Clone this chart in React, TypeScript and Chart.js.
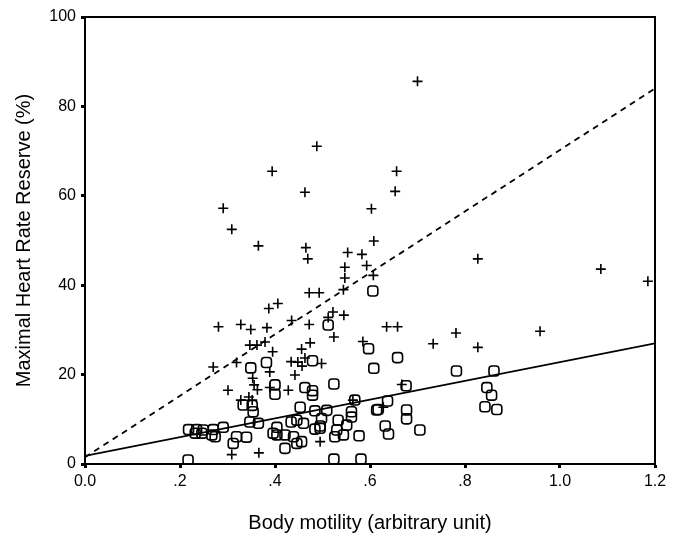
import React, { useEffect, useRef } from 'react';
import { Chart, registerables } from 'chart.js';

Chart.register(...registerables);

// "+" group
const crossX = [
  0.70, 0.488, 0.394, 0.656, 0.463, 0.653, 0.603, 0.291, 0.309, 0.365,
  0.608, 0.465, 0.469, 0.827, 0.553, 0.583, 0.547, 0.593, 0.547, 0.607,
  0.544, 0.472, 0.493, 0.387, 0.406, 0.435, 0.472, 0.522, 0.545, 0.512,
  0.635, 0.658, 0.781, 0.827, 0.733, 0.281, 0.328, 0.349, 0.383, 0.347,
  0.362, 0.379, 0.474, 0.524, 0.585, 0.456, 0.395, 0.270, 0.319, 0.389,
  0.434, 0.448, 0.457, 0.463, 0.498, 0.442, 0.353, 0.356, 0.363, 0.301,
  0.389, 0.428, 0.328, 0.345, 0.352, 0.564, 0.628, 0.495, 0.309, 0.366,
  0.667, 0.958, 1.086, 1.185,
];
const crossY = [
  85.6, 71.1, 65.5, 65.5, 60.8, 61.0, 57.1, 57.2, 52.5, 48.8,
  49.9, 48.4, 45.9, 45.9, 47.3, 46.9, 44.0, 44.4, 41.6, 42.2,
  39.0, 38.3, 38.3, 34.8, 35.9, 32.1, 31.2, 34.0, 33.3, 32.8,
  30.7, 30.7, 29.3, 26.1, 26.9, 30.7, 31.2, 30.1, 30.5, 26.6,
  26.6, 27.3, 27.1, 28.4, 27.4, 25.7, 25.1, 21.7, 22.7, 20.6,
  22.9, 22.8, 21.9, 23.7, 22.5, 19.9, 19.2, 17.7, 16.6, 16.5,
  17.1, 16.5, 14.3, 15.0, 14.3, 14.3, 12.7, 5.0, 2.1, 2.5,
  17.8, 29.7, 43.6, 40.9,
];

// "o" group
const circleX = [
  0.606, 0.512, 0.597, 0.479, 0.349, 0.382, 0.608, 0.400, 0.400, 0.463,
  0.479, 0.479, 0.524, 0.333, 0.352, 0.354, 0.568, 0.614, 0.453, 0.484,
  0.509, 0.561, 0.561, 0.434, 0.446, 0.347, 0.365, 0.218, 0.235, 0.249,
  0.270, 0.232, 0.246, 0.267, 0.274, 0.291, 0.312, 0.319, 0.340, 0.404,
  0.396, 0.404, 0.421, 0.439, 0.446, 0.421, 0.495, 0.495, 0.498, 0.484,
  0.533, 0.530, 0.551, 0.526, 0.577, 0.632, 0.639, 0.705, 0.456, 0.460,
  0.217, 0.524, 0.581, 0.658, 0.676, 0.637, 0.617, 0.677, 0.677, 0.782,
  0.861, 0.846, 0.856, 0.842, 0.867, 0.544,
];
const circleY = [
  38.7, 31.1, 25.8, 23.1, 21.5, 22.7, 21.4, 17.7, 15.6, 17.1,
  16.4, 15.4, 17.9, 13.2, 13.1, 11.7, 14.3, 12.1, 12.7, 11.9,
  12.0, 11.7, 10.5, 9.4, 9.8, 9.4, 9.1, 7.7, 7.7, 7.6,
  7.7, 6.9, 6.9, 6.5, 6.1, 8.2, 4.6, 6.1, 6.0, 8.2,
  6.9, 6.5, 6.5, 6.1, 4.6, 3.5, 8.5, 8.0, 10.2, 7.8,
  9.8, 7.6, 8.7, 6.1, 6.3, 8.5, 6.7, 7.6, 5.0, 9.1,
  0.9, 1.1, 1.1, 23.8, 17.5, 14.1, 12.2, 12.1, 10.1, 20.8,
  20.8, 17.1, 15.4, 12.8, 12.2, 6.5,
];

// fitted lines
const dashedFitX = [0, 1.2];
const dashedFitY = [1.5, 84];
const solidFitX = [0, 1.2];
const solidFitY = [1.8, 27];

const xTickLabels = ['0.0', '.2', '.4', '.6', '.8', '1.0', '1.2'];
const yTickLabels = ['0', '20', '40', '60', '80', '100'];

const xTitle = 'Body motility (arbitrary unit)';
const yTitle = 'Maximal Heart Rate Reserve (%)';

const FONT = "'Liberation Sans', Arial, Helvetica, sans-serif";

const toPts = (xs: number[], ys: number[]) => xs.map((x, i) => ({ x, y: ys[i] }));

const frameBox = {
  id: 'frameBox',
  afterDraw(chart: any) {
    const { ctx, chartArea } = chart;
    ctx.save();
    ctx.strokeStyle = '#000';
    ctx.lineWidth = 2;
    ctx.beginPath();
    ctx.moveTo(chartArea.left, chartArea.top);
    ctx.lineTo(chartArea.right, chartArea.top);
    ctx.lineTo(chartArea.right, chartArea.bottom);
    ctx.stroke();
    ctx.restore();
  },
};

export default function App() {
  const ref = useRef<HTMLCanvasElement | null>(null);

  useEffect(() => {
    if (!ref.current) return;
    const chart = new Chart(ref.current, {
      type: 'scatter',
      data: {
        datasets: [
          {
            label: 'cross',
            data: toPts(crossX, crossY),
            pointStyle: 'cross',
            pointRadius: 5,
            pointBorderWidth: 1.6,
            borderColor: '#000',
            backgroundColor: '#000',
          },
          {
            label: 'circle',
            data: toPts(circleX, circleY),
            pointStyle: 'rectRounded',
            pointRadius: 5.8,
            pointBorderWidth: 1.6,
            borderColor: '#000',
            backgroundColor: 'rgba(0,0,0,0)',
          },
          {
            label: 'dashedFit',
            data: toPts(dashedFitX, dashedFitY),
            showLine: true,
            pointRadius: 0,
            borderColor: '#000',
            borderWidth: 1.8,
            borderDash: [6, 5],
            fill: false,
          },
          {
            label: 'solidFit',
            data: toPts(solidFitX, solidFitY),
            showLine: true,
            pointRadius: 0,
            borderColor: '#000',
            borderWidth: 1.8,
            fill: false,
          },
        ],
      } as any,
      options: {
        animation: false,
        responsive: false,
        maintainAspectRatio: false,
        events: [],
        layout: { padding: { left: 0, top: 17, right: 25, bottom: 0 } },
        plugins: {
          legend: { display: false },
          tooltip: { enabled: false },
        },
        scales: {
          x: {
            type: 'linear',
            min: 0,
            max: 1.2,
            afterFit: (s: any) => { s.height = 80; },
            ticks: {
              stepSize: 0.2,
              color: '#000',
              font: { family: FONT, size: 16 },
              padding: 4,
              maxRotation: 0,
              autoSkip: false,
              callback: (_v: any, i: number) => xTickLabels[i],
            },
            grid: {
              display: true,
              drawOnChartArea: false,
              drawTicks: true,
              tickLength: 4,
              tickWidth: 3,
              tickColor: '#000',
            },
            border: { display: true, color: '#000', width: 2 },
            title: {
              display: true,
              text: xTitle,
              color: '#000',
              font: { family: FONT, size: 20 },
              padding: { top: 0, bottom: 9 },
            },
          },
          y: {
            type: 'linear',
            min: 0,
            max: 100,
            afterFit: (s: any) => { s.width = 85; },
            ticks: {
              stepSize: 20,
              color: '#000',
              font: { family: FONT, size: 16 },
              padding: 5,
              autoSkip: false,
              callback: (_v: any, i: number) => yTickLabels[i],
            },
            grid: {
              display: true,
              drawOnChartArea: false,
              drawTicks: true,
              tickLength: 4,
              tickWidth: 3,
              tickColor: '#000',
            },
            border: { display: true, color: '#000', width: 2 },
            title: {
              display: true,
              text: yTitle,
              color: '#000',
              font: { family: FONT, size: 20 },
              padding: { top: 12, bottom: 0 },
            },
          },
        },
      } as any,
      plugins: [frameBox],
    });
    return () => chart.destroy();
  }, []);

  return (
    <div style={{ position: 'absolute', left: 0, top: 0, width: 680, height: 544, background: '#fff' }}>
      <canvas ref={ref} width={680} height={544} style={{ width: 680, height: 544, display: 'block' }} />
    </div>
  );
}
